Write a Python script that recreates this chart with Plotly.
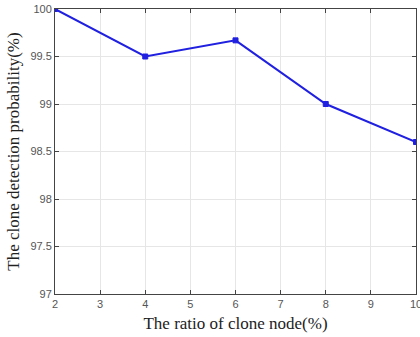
import plotly.graph_objects as go

# Clone node ratio (%) vs. detection probability (%)
clone_ratio = [2, 4, 6, 8, 10]
detection_prob = [100.0, 99.5, 99.67, 99.0, 98.6]

x_ticks = [2, 3, 4, 5, 6, 7, 8, 9, 10]
y_ticks = [97, 97.5, 98, 98.5, 99, 99.5, 100]
y_tick_text = ["97", "97.5", "98", "98.5", "99", "99.5", "100"]

fig = go.Figure()
fig.add_trace(go.Scatter(
    x=clone_ratio,
    y=detection_prob,
    mode="lines+markers",
    line=dict(color="#2020e0", width=2),
    marker=dict(symbol="square", size=5, color="#2020e0",
                line=dict(color="#2020e0", width=1)),
    showlegend=False,
))

axis_common = dict(
    showgrid=True,
    gridcolor="#e6e6e6",
    gridwidth=1,
    showline=True,
    linecolor="#444444",
    linewidth=1,
    mirror="ticks",
    ticks="inside",
    ticklen=4,
    tickcolor="#444444",
    tickfont=dict(family="Liberation Sans, Arial, sans-serif", size=11, color="#555555"),
    ticklabeloverflow="allow",
    automargin=False,
    zeroline=False,
)

fig.update_layout(
    width=420,
    height=337,
    margin=dict(l=55, r=4, t=9, b=43),
    paper_bgcolor="white",
    plot_bgcolor="white",
    xaxis=dict(
        range=[2, 10],
        tickvals=x_ticks,
        title=dict(text="The ratio of clone node(%)",
                   font=dict(family="Liberation Serif, Times New Roman, serif", size=17, color="#222222"),
                   standoff=7),
        **axis_common,
    ),
    yaxis=dict(
        range=[97, 100],
        tickvals=y_ticks,
        ticktext=y_tick_text,
        title=dict(text="The clone detection probability(%)",
                   font=dict(family="Liberation Serif, Times New Roman, serif", size=17, color="#222222"),
                   standoff=6),
        **axis_common,
    ),
)

fig.write_html("out.html")
